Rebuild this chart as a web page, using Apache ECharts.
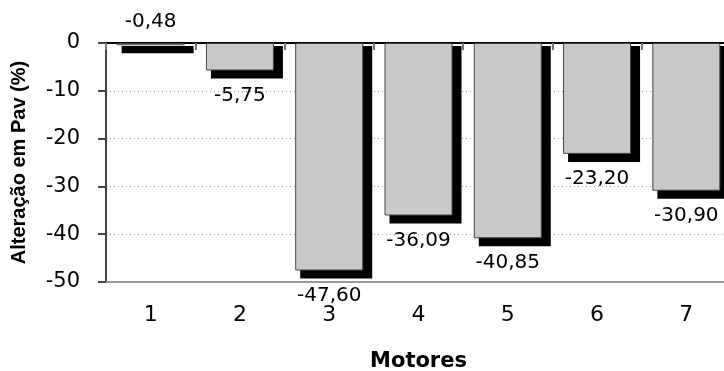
<!DOCTYPE html>
<html><head><meta charset="utf-8">
<script src="https://cdn.jsdelivr.net/npm/echarts@6/dist/echarts.min.js"></script>
<style>html,body{margin:0;padding:0;background:#fff}#c{width:724px;height:371px}</style>
</head><body><div id="c"></div>
<script>
const categories = ['1','2','3','4','5','6','7'];
const values = [-0.48, -5.75, -47.60, -36.09, -40.85, -23.20, -30.90];
const yTicks = [0, -10, -20, -30, -40, -50];

const WIDE = '"DejaVu Sans", sans-serif';
const NARROW = '"Liberation Sans", Arial, sans-serif';
const chart = echarts.init(document.getElementById('c'));
const barData = values.map((v, i) => ({
  value: v,
  label: i === 0 ? { position: 'top', distance: 11 } : { position: 'bottom', distance: 15 }
}));
chart.setOption({
  animation: false,
  grid: { left: 106, top: 43, width: 625, height: 239, containLabel: false, outerBoundsMode: 'none' },
  xAxis: [{
    type: 'category', data: categories, position: 'bottom',
    axisLine: { onZero: false, lineStyle: { color: '#9a9a9a', width: 2 } },
    axisTick: { show: false },
    axisLabel: { margin: 22, fontSize: 22, color: '#000', fontFamily: WIDE },
    name: 'Motores', nameLocation: 'middle', nameGap: 69,
    nameTextStyle: { fontSize: 21, fontWeight: 'bold', color: '#000', fontFamily: WIDE }
  }, {
    type: 'category', data: categories, position: 'top',
    axisLine: { onZero: false, lineStyle: { color: '#000', width: 2 } },
    axisTick: { show: true, inside: true, length: 7, lineStyle: { color: '#777', width: 2 } },
    axisLabel: { show: false }
  }],
  yAxis: {
    type: 'value', min: -50, max: 0, interval: 10,
    axisLine: { show: true, lineStyle: { color: '#444', width: 2 } },
    axisTick: { show: true, length: 8, lineStyle: { color: '#444', width: 2 } },
    axisLabel: { margin: 26, fontSize: 21, color: '#000', fontFamily: WIDE,
      formatter: v => yTicks.includes(v) ? String(v) : '' },
    splitLine: { show: true, lineStyle: { color: '#999', type: [1, 3], width: 1 } },
    name: 'Alteração em Pav (%)', nameLocation: 'middle', nameGap: 77,
    nameTextStyle: { fontSize: 20, fontWeight: 'bold', color: '#000', fontFamily: NARROW }
  },
  series: [{
    type: 'custom', xAxisIndex: 0, z: 1, silent: true,
    data: values.map((v, i) => [i, v]),
    renderItem: function (params, api) {
      const base = api.coord([api.value(0), 0]);
      const end = api.coord([api.value(0), api.value(1)]);
      const half = 34;
      return {
        type: 'rect',
        shape: { x: base[0] - half + 5, y: base[1] + 3, width: 72, height: end[1] - base[1] + 5 },
        style: { fill: '#000' }
      };
    }
  }, {
    type: 'bar', xAxisIndex: 0, z: 2, barWidth: 68,
    data: barData,
    itemStyle: { color: '#c8c9cb', borderColor: '#444', borderWidth: 1 },
    label: { show: true, fontSize: 20, color: '#000', fontFamily: WIDE,
      formatter: p => p.value.toFixed(2).replace('.', ',') }
  }]
});
</script></body></html>
